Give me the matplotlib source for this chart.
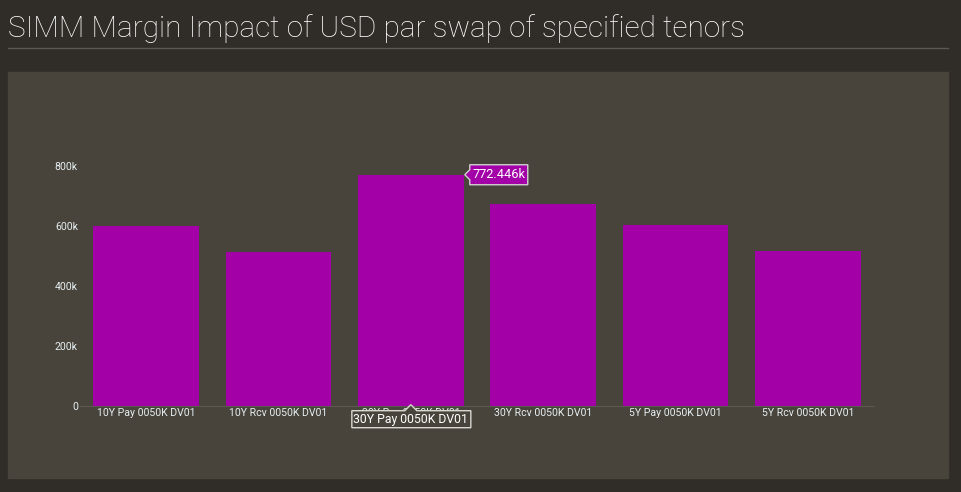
import matplotlib
matplotlib.use("Agg")
import matplotlib.pyplot as plt
from matplotlib.patches import Polygon, Rectangle
from matplotlib.lines import Line2D
from matplotlib.transforms import IdentityTransform

# données du graphique
categories = ["10Y Pay 0050K DV01", "10Y Rcv 0050K DV01", "30Y Pay 0050K DV01",
              "30Y Rcv 0050K DV01", "5Y Pay 0050K DV01", "5Y Rcv 0050K DV01"]
marge_simm = [601000, 514000, 772446, 676000, 606000, 518000]
ticks_y = [0, 200000, 400000, 600000, 800000]
labels_y = ["0", "200k", "400k", "600k", "800k"]
titre = "SIMM Margin Impact of USD par swap of specified tenors"
valeur_survol = "772.446k"
indice_survol = 2

FOND = "#302d28"
PANNEAU = "#48443c"
BARRE = "#a300a8"
TEXTE = "#e6eef0"

plt.rcParams["font.family"] = ["Roboto", "DejaVu Sans"]

L, H = 962, 492
fig = plt.figure(figsize=(L / 100, H / 100), dpi=100, facecolor=FOND)

# panneau de fond et titre
fig.add_artist(Rectangle((8 / L, (H - 478) / H), 940 / L, 406 / H,
                         transform=fig.transFigure, color=PANNEAU, zorder=-1))
fig.text(8 / L, (H - 37) / H, titre, color="white", fontsize=21.4,
         fontweight="light", va="baseline", ha="left")
fig.add_artist(Line2D([8 / L, 948 / L], [(H - 48) / H] * 2,
                      transform=fig.transFigure, color="#5b5852", lw=1))

ax = fig.add_axes([80 / L, (H - 405.7) / H, 794 / L, 239.2 / H])
ax.set_facecolor("none")
x = list(range(len(categories)))
ax.bar(x, marge_simm, width=0.8, color=BARRE, zorder=2)
ax.set_xlim(-0.5, len(categories) - 0.5)
ax.set_ylim(0, 800000)
ax.set_xticks(x)
ax.set_xticklabels(categories)
ax.set_yticks(ticks_y)
ax.set_yticklabels(labels_y)
ax.tick_params(colors=TEXTE, length=0, labelsize=7.6)
ax.tick_params(axis="y", pad=1.5)
ax.tick_params(axis="x", pad=2)
for s in ["top", "right", "left"]:
    ax.spines[s].set_visible(False)
ax.spines["bottom"].set_color("#5b5852")

# infobulles (coordonnées en pixels)
tx, ty = ax.transData.transform((indice_survol + 0.4, marge_simm[indice_survol]))
pts = [(tx + 1, ty), (tx + 6, ty + 5), (tx + 6, ty + 10), (tx + 64, ty + 10),
       (tx + 64, ty - 10), (tx + 6, ty - 10), (tx + 6, ty - 5)]
fig.add_artist(Polygon(pts, closed=True, facecolor=BARRE, edgecolor="#d0d0d0",
                       lw=1, transform=IdentityTransform(), zorder=5))
fig.text(tx + 35, ty, valeur_survol, color="white", fontsize=9.2, ha="center",
         va="center", transform=IdentityTransform(), zorder=6)

bx, by = ax.transData.transform((indice_survol, 0))
pts = [(bx, by + 1), (bx + 6, by - 5), (bx + 60, by - 5), (bx + 60, by - 22),
       (bx - 59, by - 22), (bx - 59, by - 5), (bx - 6, by - 5)]
fig.add_artist(Polygon(pts, closed=True, facecolor=PANNEAU, edgecolor="#d8d8d0",
                       lw=1, transform=IdentityTransform(), zorder=5))
fig.text(bx, by - 13.5, categories[indice_survol], color="white", fontsize=8.8,
         ha="center", va="center", transform=IdentityTransform(), zorder=6)

fig.savefig("out.png", dpi=100, facecolor=FOND)
